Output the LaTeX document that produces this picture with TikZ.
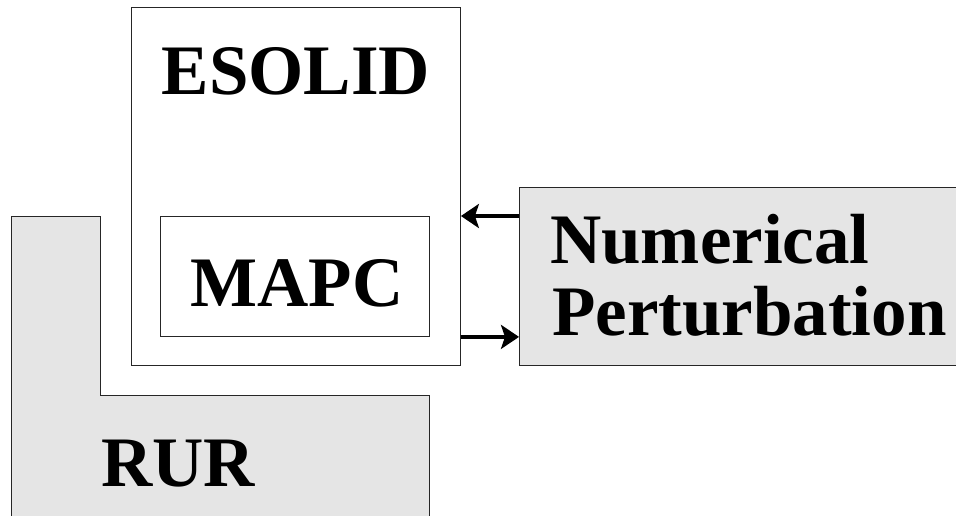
\documentclass[tikz,border=0pt]{standalone}
\usepackage{fontspec}
\setmainfont{Liberation Serif}
\usetikzlibrary{arrows.meta}
\begin{document}
\begin{tikzpicture}[x=1pt,y=-1pt,
  box/.style={draw=black!85,line width=0.9pt,inner sep=0pt,anchor=north west},
  greybox/.style={box,fill=black!10},
  big/.style={font=\fontsize{71}{80}\selectfont\bfseries,inner sep=0pt},
  linkarrow/.style={draw=black,line width=3.8pt,-{Stealth[length=18pt,width=24pt,inset=4pt]}}]
\useasboundingbox (0,0) rectangle (956,515);
% RUR L-shape
\draw[draw=black!85,line width=0.9pt,fill=black!10] (11,516) -- (11,216) -- (100,216) -- (100,395) -- (429,395) -- (429,516);
\node[big,anchor=base west] (rur) at (101,486) {RUR};
% ESOLID box
\node[box,minimum width=329pt,minimum height=358pt] (esolid) at (131,7) {};
\node[big,anchor=base] (esolidt) at (296,94) {ESOLID};
% MAPC box
\node[box,minimum width=269pt,minimum height=120pt] (mapc) at (160,216) {};
\node[big,anchor=base] (mapct) at (297,306) {MAPC};
% Numerical perturbation box
\node[greybox,minimum width=445pt,minimum height=178pt] (np) at (519,187) {};
\node[big,anchor=base west] (npt1) at (550,263) {Numerical};
\node[big,anchor=base west] (npt2) at (552,335) {Perturbation};
% arrows
\draw[linkarrow] (np.west |- mapc.north) -- (esolid.east |- mapc.north);
\draw[linkarrow] (esolid.east |- mapc.south) -- (np.west |- mapc.south);
\end{tikzpicture}
\end{document}
